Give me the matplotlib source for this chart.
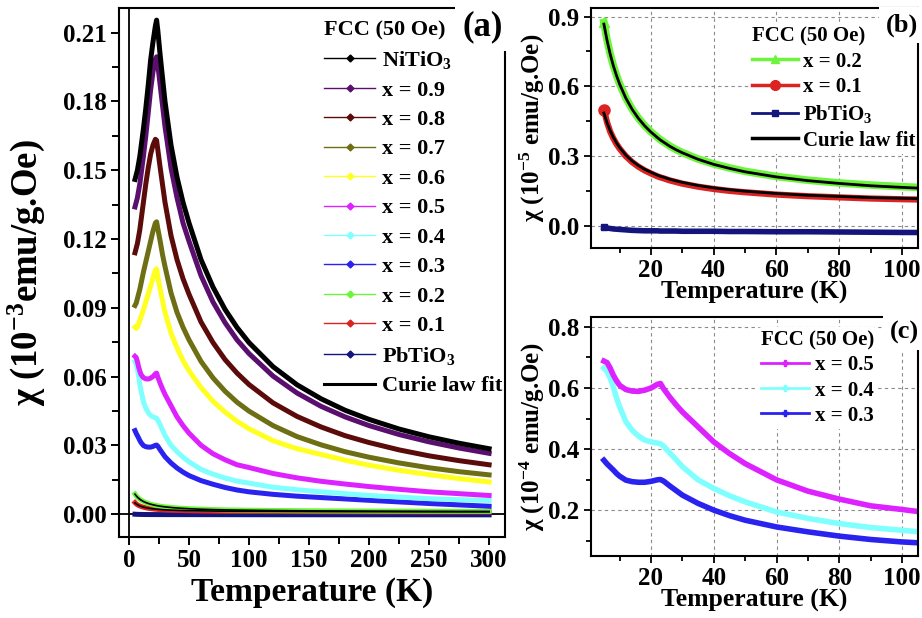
import matplotlib
matplotlib.use('Agg')
import matplotlib.pyplot as plt
from matplotlib.lines import Line2D
from matplotlib.ticker import MultipleLocator, FormatStrFormatter

plt.rcParams['font.family'] = 'Liberation Serif'
plt.rcParams['font.weight'] = 'bold'
plt.rcParams['axes.labelweight'] = 'bold'
plt.rcParams['mathtext.fontset'] = 'custom'
plt.rcParams['mathtext.rm'] = 'Liberation Serif:bold'
plt.rcParams['mathtext.it'] = 'Liberation Serif:italic:bold'
plt.rcParams['mathtext.bf'] = 'Liberation Serif:bold'
plt.rcParams['axes.linewidth'] = 1.5

# temperature points (K)
T = [5, 6, 7, 8, 9, 10, 12, 14, 16, 18, 20, 22, 23, 24, 26, 28, 30, 35, 40, 45,
     50, 60, 70, 80, 90, 100, 120, 140, 160, 180, 200, 225, 250, 275, 300]

# chi in 1e-3 emu/g.Oe
chi_niti = [0.146, 0.148, 0.150, 0.153, 0.156, 0.160, 0.168, 0.177, 0.187, 0.198, 0.206, 0.213, 0.2155, 0.211,
            0.200, 0.190, 0.180, 0.161, 0.147, 0.136, 0.127, 0.111, 0.099, 0.0893, 0.0814, 0.0748,
            0.0643, 0.0564, 0.0503, 0.0453, 0.0413, 0.0371, 0.0337, 0.0309, 0.0285]
chi_x09 = [0.134, 0.136, 0.138, 0.141, 0.144, 0.148, 0.156, 0.165, 0.175, 0.185, 0.193, 0.1985, 0.1995, 0.196,
           0.187, 0.178, 0.169, 0.151, 0.138, 0.127, 0.119, 0.104, 0.0925, 0.0835, 0.076, 0.070,
           0.0602, 0.0528, 0.047, 0.0424, 0.0386, 0.0347, 0.0315, 0.0288, 0.0265]
chi_x08 = [0.114, 0.116, 0.118, 0.121, 0.124, 0.128, 0.136, 0.144, 0.151, 0.157, 0.161, 0.1635, 0.163, 0.159,
           0.151, 0.1435, 0.136, 0.1215, 0.111, 0.1027, 0.0959, 0.0838, 0.0748, 0.0674, 0.0615, 0.0565,
           0.0485, 0.0426, 0.038, 0.0342, 0.0312, 0.028, 0.0254, 0.0233, 0.0215]
chi_x07 = [0.091, 0.092, 0.094, 0.096, 0.098, 0.1005, 0.1055, 0.110, 0.1145, 0.119, 0.1235, 0.127, 0.1275, 0.1245,
           0.119, 0.113, 0.108, 0.0965, 0.088, 0.0815, 0.076, 0.0666, 0.0594, 0.0536, 0.0488, 0.0449,
           0.0386, 0.0338, 0.0302, 0.0272, 0.0248, 0.0223, 0.0202, 0.0185, 0.0171]
chi_x06 = [0.0815, 0.081, 0.0815, 0.083, 0.0845, 0.086, 0.089, 0.0925, 0.096, 0.0995, 0.103, 0.1065, 0.107, 0.1035,
           0.098, 0.093, 0.088, 0.079, 0.0725, 0.067, 0.0625, 0.0552, 0.0492, 0.0445, 0.0405, 0.0372,
           0.032, 0.0285, 0.026, 0.0235, 0.0213, 0.0191, 0.0172, 0.0155, 0.014]

# chi in 1e-4 emu/g.Oe
chi_x05 = [0.688, 0.683, 0.665, 0.642, 0.624, 0.609, 0.595, 0.590, 0.589, 0.593, 0.600, 0.612, 0.615, 0.598,
           0.570, 0.545, 0.522, 0.473, 0.424, 0.386, 0.353, 0.300, 0.263, 0.237, 0.215, 0.203,
           0.177, 0.158, 0.143, 0.131, 0.120, 0.108, 0.097, 0.089, 0.081]
chi_x04 = [0.665, 0.655, 0.632, 0.604, 0.568, 0.539, 0.490, 0.462, 0.443, 0.430, 0.424, 0.420, 0.418, 0.410,
           0.388, 0.366, 0.343, 0.300, 0.272, 0.248, 0.228, 0.195, 0.174, 0.157, 0.144, 0.135,
           0.117, 0.106, 0.097, 0.089, 0.081, 0.074, 0.067, 0.063, 0.059]
chi_x03 = [0.364, 0.352, 0.342, 0.332, 0.321, 0.312, 0.299, 0.294, 0.292, 0.292, 0.295, 0.300, 0.301, 0.296,
           0.280, 0.265, 0.250, 0.223, 0.201, 0.183, 0.168, 0.146, 0.130, 0.116, 0.105, 0.097,
           0.086, 0.078, 0.072, 0.066, 0.060, 0.053, 0.046, 0.040, 0.034]

# chi in 1e-5 emu/g.Oe
chi_x02 = [0.875, 0.800, 0.740, 0.690, 0.648, 0.611, 0.550, 0.502, 0.463, 0.431, 0.404, 0.381, 0.370, 0.361,
           0.343, 0.328, 0.315, 0.287, 0.266, 0.249, 0.234, 0.212, 0.196, 0.184, 0.175, 0.168,
           0.156, 0.147, 0.141, 0.136, 0.132, 0.128, 0.125, 0.122, 0.120]
fit_x02 = [0.868, 0.798, 0.739, 0.689, 0.647, 0.610, 0.549, 0.501, 0.462, 0.430, 0.403, 0.380, 0.369, 0.360,
           0.342, 0.327, 0.314, 0.286, 0.264, 0.247, 0.232, 0.210, 0.194, 0.182, 0.172, 0.165,
           0.153, 0.144, 0.1375, 0.132, 0.128, 0.124, 0.121, 0.118, 0.116]
chi_x01 = [0.500, 0.445, 0.405, 0.376, 0.352, 0.332, 0.299, 0.274, 0.254, 0.238, 0.225, 0.213, 0.208, 0.204,
           0.195, 0.188, 0.181, 0.168, 0.158, 0.150, 0.144, 0.134, 0.127, 0.122, 0.117, 0.114,
           0.109, 0.106, 0.103, 0.101, 0.099, 0.097, 0.095, 0.094, 0.093]
fit_x01 = [0.485, 0.443, 0.409, 0.381, 0.357, 0.337, 0.304, 0.279, 0.259, 0.243, 0.230, 0.218, 0.213, 0.209,
           0.200, 0.193, 0.1865, 0.173, 0.163, 0.155, 0.1486, 0.1385, 0.131, 0.126, 0.121, 0.118,
           0.1125, 0.109, 0.106, 0.1035, 0.102, 0.100, 0.098, 0.097, 0.096]
chi_pbti = [-0.007, -0.010, -0.012, -0.014, -0.015, -0.016, -0.018, -0.020, -0.021, -0.022, -0.022, -0.022, -0.023,
            -0.023, -0.023, -0.023, -0.024, -0.024, -0.024, -0.025, -0.025, -0.026, -0.026, -0.027, -0.028,
            -0.029, -0.030, -0.030, -0.031, -0.031, -0.032, -0.032, -0.033, -0.033, -0.034]

def scaled(vals, f):
    return [v * f for v in vals]

c_niti = '#000000'
c_x09 = '#5a0f6e'
c_x08 = '#5c0b0b'
c_x07 = '#6e6e14'
c_x06 = '#ffff22'
c_x05 = '#dd22ff'
c_x04 = '#80ffff'
c_x03 = '#2a22ee'
c_x02 = '#6cf53a'
c_x01 = '#dd2222'
c_pbti = '#14147d'

fig = plt.figure(figsize=(9.22, 6.18), dpi=100)
axa = fig.add_axes([0.1291, 0.1311, 0.4187, 0.856])
axb = fig.add_axes([0.6407, 0.5987, 0.3545, 0.3879])
axc = fig.add_axes([0.6407, 0.1003, 0.3547, 0.3872])

# ---- (a) all compositions ----
axa.axhline(0, color='k', lw=1.3, zorder=1)
axa.axvline(0, color='k', lw=1.3, zorder=1)
lw_a = 3.6
axa.plot(T, scaled(chi_pbti, 1e-2), color=c_pbti, lw=lw_a)
axa.plot(T, scaled(chi_x01, 1e-2), color=c_x01, lw=lw_a)
axa.plot(T, scaled(chi_x02, 1e-2), color=c_x02, lw=lw_a)
axa.plot(T, scaled(fit_x01, 1e-2), color='k', lw=1.2)
axa.plot(T, scaled(fit_x02, 1e-2), color='k', lw=1.2)
axa.plot(T, scaled(chi_x03, 0.1), color=c_x03, lw=lw_a)
axa.plot(T, scaled(chi_x04, 0.1), color=c_x04, lw=lw_a)
axa.plot(T, scaled(chi_x05, 0.1), color=c_x05, lw=lw_a)
axa.plot(T, chi_x06, color=c_x06, lw=lw_a)
axa.plot(T, chi_x07, color=c_x07, lw=lw_a)
axa.plot(T, chi_x08, color=c_x08, lw=lw_a)
axa.plot(T, chi_x09, color=c_x09, lw=lw_a)
axa.plot(T, chi_niti, color=c_niti, lw=lw_a)

axa.set_xlim(-8.3, 313.3)
axa.set_ylim(-0.010, 0.2208)
axa.xaxis.set_major_locator(MultipleLocator(50))
axa.xaxis.set_minor_locator(MultipleLocator(25))
axa.yaxis.set_major_locator(MultipleLocator(0.03))
axa.yaxis.set_minor_locator(MultipleLocator(0.015))
axa.yaxis.set_major_formatter(FormatStrFormatter('%.2f'))
axa.tick_params(which='major', direction='out', length=6, width=1.4, labelsize=18, pad=3)
axa.tick_params(which='minor', direction='out', length=5, width=1.4)
axa.set_xlabel('Temperature (K)', fontsize=24)
axa.set_ylabel('χ (10$^{-3}$emu/g.Oe)', fontsize=26.5)
axa.xaxis.set_label_coords(0.5, -0.075)
axa.yaxis.set_label_coords(-0.186, 0.5)

names_a = ['NiTiO$_3$', 'x = 0.9', 'x = 0.8', 'x = 0.7', 'x = 0.6', 'x = 0.5',
           'x = 0.4', 'x = 0.3', 'x = 0.2', 'x = 0.1', 'PbTiO$_3$', 'Curie law fit']
cols_a = [c_niti, c_x09, c_x08, c_x07, c_x06, c_x05, c_x04, c_x03, c_x02, c_x01, c_pbti]
hand_a = [Line2D([], [], color=c, lw=1, marker='D', ms=3.5) for c in cols_a]
hand_a.append(Line2D([], [], color='k', lw=2.2))
leg = axa.legend(hand_a, names_a, title='FCC (50 Oe)', loc='upper left',
                 bbox_to_anchor=(0.526, 0.981), frameon=False, fontsize=16,
                 title_fontsize=16, handlelength=2.3, handletextpad=0.3,
                 labelspacing=0.4, borderpad=0.1, borderaxespad=0, alignment='left')

fig.text(483 / 922, 1 - 27 / 618, '(a)', fontsize=25, ha='center', va='center',
         bbox=dict(boxstyle='square,pad=0.23', fc='white', ec='none'), zorder=10)

# ---- (b) low doping + PbTiO3 ----
axb.set_axisbelow(True)
axb.grid(True, which='major', ls=(0, (3, 3)), color='#8a8a8a', lw=0.8)
axb.plot(T, chi_pbti, color=c_pbti, lw=4, marker='s', ms=5, markevery=[0])
axb.plot(T, chi_x01, color=c_x01, lw=4.5, marker='o', ms=8, markevery=[0])
axb.plot(T, chi_x02, color=c_x02, lw=5.5, marker='^', ms=7, markevery=[0])
axb.plot(T, fit_x01, color='k', lw=2.0)
axb.plot(T, fit_x02, color='k', lw=2.0)
axb.set_xlim(0.8, 105)
axb.set_ylim(-0.096, 0.936)
axb.xaxis.set_major_locator(MultipleLocator(20))
axb.xaxis.set_minor_locator(MultipleLocator(10))
axb.yaxis.set_major_locator(MultipleLocator(0.3))
axb.yaxis.set_minor_locator(MultipleLocator(0.15))
axb.yaxis.set_major_formatter(FormatStrFormatter('%.1f'))
axb.set_xlabel('Temperature (K)', fontsize=18.5)
axb.set_ylabel('χ (10$^{-5}$ emu/g.Oe)', fontsize=18)
axb.xaxis.set_label_coords(0.5, -0.138)
axb.yaxis.set_label_coords(-0.134, 0.5)

hand_b = [Line2D([], [], color=c_x02, lw=2.5, marker='^', ms=6),
          Line2D([], [], color=c_x01, lw=2.5, marker='o', ms=7),
          Line2D([], [], color=c_pbti, lw=2, marker='s', ms=4.5),
          Line2D([], [], color='k', lw=2.5)]
leg_b = axb.legend(hand_b, ['x = 0.2', 'x = 0.1', 'PbTiO$_3$', 'Curie law fit'],
                   title='FCC (50 Oe)', loc='upper left', bbox_to_anchor=(0.485, 0.939),
                   frameon=True, facecolor='white', edgecolor='none', framealpha=1,
                   fontsize=15, title_fontsize=15, handlelength=2.2, handletextpad=0.25,
                   labelspacing=0.27, borderpad=0.15, borderaxespad=0, alignment='left')
leg_b.set_zorder(2.2)
fig.text(902 / 922, 1 - 25 / 618, '(b)', fontsize=19, ha='center', va='center',
         bbox=dict(boxstyle='square,pad=0.25', fc='white', ec='none'), zorder=10)

# ---- (c) intermediate doping ----
axc.set_axisbelow(True)
axc.grid(True, which='major', ls=(0, (3, 3)), color='#8a8a8a', lw=0.8)
axc.plot(T, chi_x03, color=c_x03, lw=4)
axc.plot(T, chi_x04, color=c_x04, lw=4)
axc.plot(T, chi_x05, color=c_x05, lw=4)
axc.set_xlim(0.8, 105)
axc.set_ylim(0.051, 0.833)
axc.xaxis.set_major_locator(MultipleLocator(20))
axc.xaxis.set_minor_locator(MultipleLocator(10))
axc.yaxis.set_major_locator(MultipleLocator(0.2))
axc.yaxis.set_minor_locator(MultipleLocator(0.1))
axc.yaxis.set_major_formatter(FormatStrFormatter('%.1f'))
axc.set_xlabel('Temperature (K)', fontsize=18.5)
axc.set_ylabel('χ (10$^{-4}$ emu/g.Oe)', fontsize=18)
axc.xaxis.set_label_coords(0.5, -0.138)
axc.yaxis.set_label_coords(-0.134, 0.5)

hand_c = [Line2D([], [], color=c, lw=2, marker='P', ms=4) for c in (c_x05, c_x04, c_x03)]
leg_c = axc.legend(hand_c, ['x = 0.5', 'x = 0.4', 'x = 0.3'],
                   title='FCC (50 Oe)', loc='upper left', bbox_to_anchor=(0.5116, 0.957),
                   frameon=True, facecolor='white', edgecolor='none', framealpha=1,
                   fontsize=15, title_fontsize=15, handlelength=2.3, handletextpad=0.3,
                   labelspacing=0.25, borderpad=0.15, borderaxespad=0, alignment='left')
leg_c.set_zorder(2.2)
fig.text(904 / 922, 1 - 332 / 618, '(c)', fontsize=19, ha='center', va='center',
         bbox=dict(boxstyle='square,pad=0.25', fc='white', ec='none'), zorder=10)

for ax in (axb, axc):
    ax.tick_params(which='major', direction='out', length=5, width=1.3, labelsize=18, pad=3)
    ax.tick_params(which='minor', direction='out', length=3.5, width=1.3)

fig.savefig('out.png', dpi=100)
